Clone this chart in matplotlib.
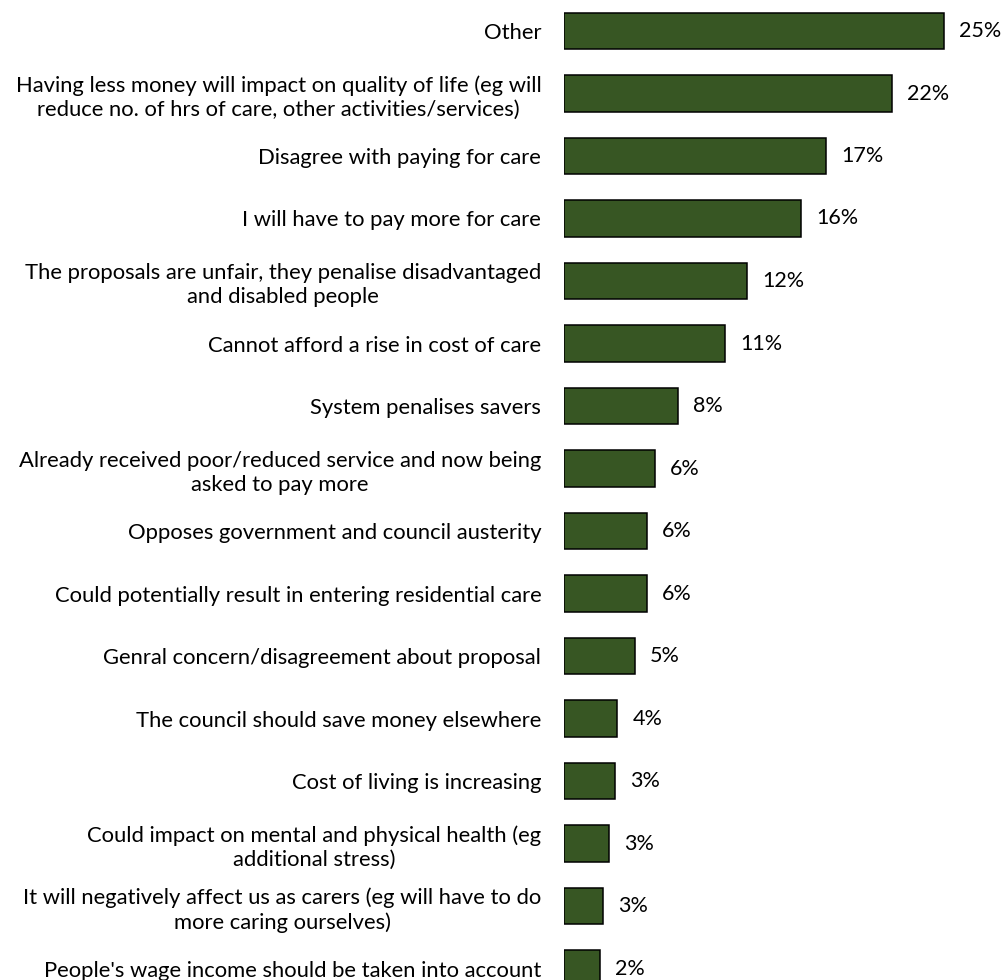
import matplotlib.pyplot as plt

# === Dati ===
categories = [
    "Other",
    "Having less money will impact on quality of life (eg will\nreduce no. of hrs of care, other activities/services)",
    "Disagree with paying for care",
    "I will have to pay more for care",
    "The proposals are unfair, they penalise disadvantaged\nand disabled people",
    "Cannot afford a rise in cost of care",
    "System penalises savers",
    "Already received poor/reduced service and now being\nasked to pay more",
    "Opposes government and council austerity",
    "Could potentially result in entering residential care",
    "Genral concern/disagreement about proposal",
    "The council should save money elsewhere",
    "Cost of living is increasing",
    "Could impact on mental and physical health (eg\nadditional stress)",
    "It will negatively affect us as carers (eg will have to do\nmore caring ourselves)",
    "People's wage income should be taken into account",
]
values = [25.0, 21.6, 17.3, 15.6, 12.1, 10.6, 7.5, 6.0, 5.5, 5.5, 4.7, 3.55, 3.4, 3.0, 2.6, 2.4]
labels = ["25%", "22%", "17%", "16%", "12%", "11%", "8%", "6%", "6%", "6%",
          "5%", "4%", "3%", "3%", "3%", "2%"]

plt.rcParams['font.family'] = ['Lato', 'DejaVu Sans']

W, H = 1001, 980
fig = plt.figure(figsize=(W / 100, H / 100), dpi=100)
x0 = 563.5
ax = fig.add_axes([x0 / W, 0, 1 - x0 / W, 1])

pos = list(range(len(categories)))
ax.barh(pos, values, height=0.58, color='#375623', edgecolor='black', linewidth=1.1)

for p, v, lab in zip(pos, values, labels):
    ax.text(v + 1.0, p, lab, va='center', ha='left', fontsize=15.5, color='black')

ax.set_xlim(0, (W - x0) / 15.2)
ax.set_ylim((H - 31) / 62.5, -31 / 62.5)

ax.set_yticks(pos)
ax.set_yticklabels(categories, fontsize=15.8)
for t in ax.get_yticklabels():
    t.set_multialignment('center')
    t.set_linespacing(1.25)
ax.tick_params(axis='y', length=0, pad=16)
ax.set_xticks([])
for s in ax.spines.values():
    s.set_visible(False)

plt.savefig("out.png", dpi=100)
plt.close()
